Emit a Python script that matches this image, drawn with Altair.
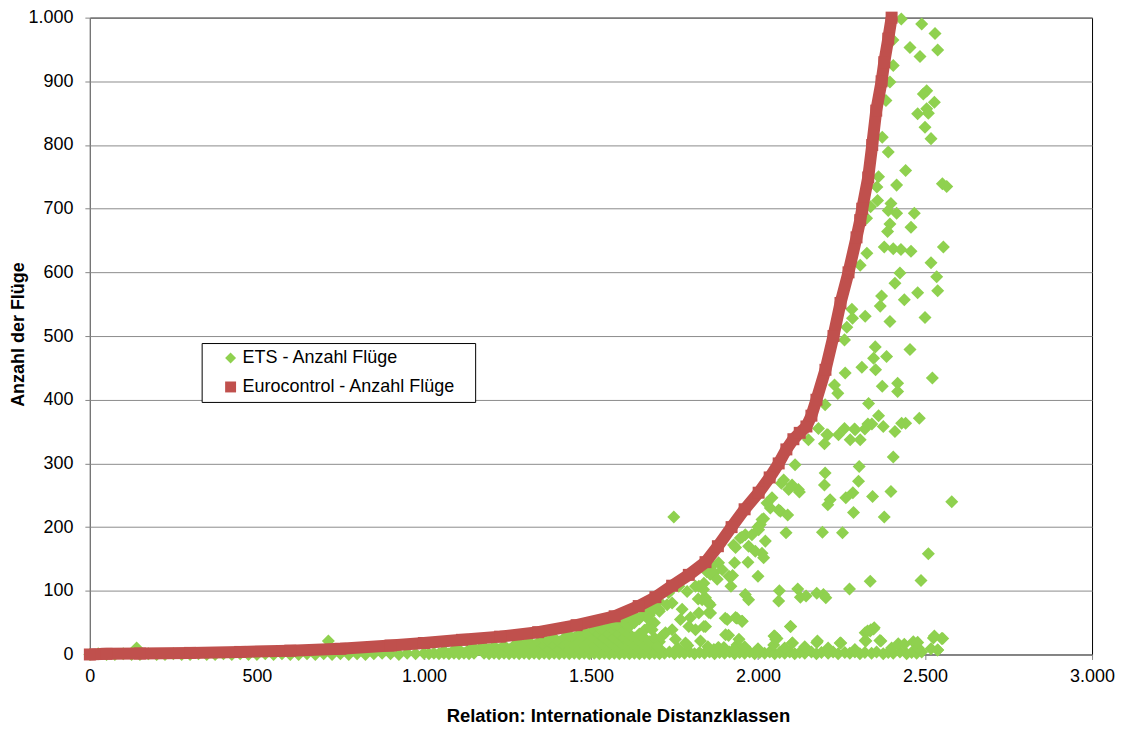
import altair as alt
import pandas as pd

SERIES = ["ETS - Anzahl Flüge", "Eurocontrol - Anzahl Flüge"]
X_TICKS = [0, 500, 1000, 1500, 2000, 2500, 3000]
Y_TICKS = [0, 100, 200, 300, 400, 500, 600, 700, 800, 900, 1000]

# Eurocontrol curve (read along the centre of the red band)
EURO_X = [0, 50, 150, 300, 450, 600, 750, 900, 1000,
          1114, 1228, 1342, 1457, 1571,
          1643, 1693, 1743, 1793, 1843,
          1880, 1921, 1960, 2002, 2035,
          2062, 2085, 2106, 2125, 2145,
          2160, 2175, 2202, 2226, 2247,
          2271, 2295, 2306, 2312, 2330,
          2342, 2354, 2370, 2378, 2390,
          2400]
EURO_Y = [0, 1, 1.5, 2.5, 4, 6, 9, 14, 18,
          23, 28, 35, 46, 60,
          76, 90, 108, 125, 145,
          170, 200, 228, 254, 278,
          300, 322, 338, 348, 358,
          375, 400, 447, 500, 552,
          600, 655, 682, 700, 749,
          800, 854, 900, 930, 967,
          1000]

# ETS: bottom strip under the red band
ETS_BASE_X = [0, 25, 50, 75, 100, 125, 150, 175, 200, 225,
              250, 275, 300, 325, 350, 375, 400, 425, 450, 475,
              500, 525, 550, 575, 600, 625, 650, 675, 700, 725,
              750, 775, 800, 825, 850, 875, 900, 925, 950, 975]
ETS_BASE_Y = [0, 1, 0, 0, 1, 0, 0, 1, 0, 0,
              1, 0, 0, 1, 0, 0, 1, 0, 1, 0,
              0, 1, 0, 1, 0, 0, 1, 0, 1, 0,
              1, 0, 1, 0, 1, 2, 1, 0, 2, 1]

# ETS: densely packed area below the red band
ETS_FILL_X = [1000,
              1015,
              1030,
              1045,
              1060, 1060,
              1075,
              1090, 1090,
              1105, 1105,
              1120,
              1135, 1135,
              1150, 1150,
              1165,
              1180, 1180,
              1195, 1195,
              1210, 1210,
              1225, 1225,
              1240, 1240,
              1255, 1255,
              1270, 1270,
              1285, 1285, 1285,
              1300, 1300,
              1315, 1315, 1315,
              1330, 1330,
              1345, 1345, 1345,
              1360, 1360, 1360,
              1375, 1375, 1375,
              1390, 1390, 1390,
              1405, 1405, 1405,
              1420, 1420, 1420,
              1435, 1435, 1435, 1435,
              1450, 1450, 1450,
              1465, 1465, 1465, 1465,
              1480, 1480, 1480, 1480,
              1495, 1495, 1495, 1495,
              1510, 1510, 1510, 1510,
              1525, 1525, 1525, 1525, 1525,
              1540, 1540, 1540, 1540,
              1555, 1555, 1555, 1555, 1555,
              1570, 1570, 1570, 1570, 1570,
              1585, 1585, 1585, 1585, 1585,
              1600, 1600, 1600, 1600, 1600,
              1615, 1615, 1615, 1615, 1615, 1615,
              1630, 1630, 1630, 1630, 1630,
              1645, 1645, 1645, 1645, 1645,
              1660, 1660, 1660, 1660, 1660, 1660,
              1675, 1675, 1675, 1675, 1675,
              1690, 1690, 1690, 1690, 1690,
              1705, 1705, 1705, 1705]
ETS_FILL_Y = [2,
              1,
              2,
              1,
              2, 6,
              1,
              2, 7,
              1, 8,
              2,
              1, 8,
              2, 10,
              8,
              2, 12,
              1, 8,
              2, 13,
              1, 8,
              2, 14,
              1, 8,
              2, 14,
              1, 8, 18,
              2, 14,
              1, 8, 20,
              2, 14,
              1, 8, 20,
              2, 14, 24,
              1, 8, 20,
              2, 14, 26,
              1, 8, 20,
              2, 14, 26,
              1, 8, 20, 30,
              2, 14, 26,
              1, 8, 20, 32,
              2, 14, 26, 36,
              1, 8, 20, 32,
              2, 14, 26, 38,
              1, 8, 20, 32, 42,
              2, 14, 26, 38,
              1, 8, 20, 32, 44,
              2, 14, 26, 38, 48,
              1, 8, 20, 32, 44,
              2, 14, 26, 38, 50,
              1, 8, 20, 32, 44, 56,
              2, 14, 26, 50, 62,
              1, 8, 20, 32, 56,
              2, 14, 26, 38, 62, 68,
              1, 8, 20, 44, 62,
              2, 14, 26, 50, 74,
              1, 8, 20, 68]

# ETS: bottom row on the right side
ETS_LOW_X = [1720, 1735, 1750, 1765, 1780, 1795, 1810, 1825, 1840, 1855,
             1870, 1885, 1900, 1915, 1930, 1945, 1960, 1975, 1990, 2005,
             2020, 2035, 2050, 2065, 2080, 2095, 2110, 2125, 2140, 2160,
             2175, 2190, 2210, 2225, 2240, 2260, 2275, 2290, 2305, 2320,
             2340, 2355, 2375, 2390, 2405, 2425, 2445, 2460, 2475, 2490,
             1700, 1760, 1790, 1850, 1880, 1960, 2000, 2080, 2140, 2210,
             2290, 2400]
ETS_LOW_Y = [2, 4, 1, 3, 2, 4, 1, 3, 2, 4,
             1, 3, 2, 4, 1, 3, 2, 4, 1, 3,
             2, 4, 1, 3, 2, 4, 1, 3, 2, 4,
             1, 3, 2, 4, 1, 3, 2, 4, 1, 3,
             2, 4, 1, 3, 2, 4, 1, 3, 2, 4,
             12, 10, 14, 12, 10, 12, 9, 10, 12, 10,
             8, 10]

# ETS: scattered points
ETS_SCAT_X = [2429, 2490, 2530, 2455, 2538, 2485, 2405, 2404, 2395, 2505,
              2495, 2528, 2505, 2510, 2478, 2500, 2518, 2390, 2372, 2383,
              2442, 2552, 2565, 2415, 2356, 2361, 2358, 2398, 2390, 2415,
              2468, 2337, 2325, 2395, 2458,
              2388, 2326, 2378, 2405, 2428, 2458, 2555, 2518, 2425, 2535,
              2410, 2306, 2538, 2478, 2370, 2438, 2366, 2281, 2321, 2283,
              2395, 2500, 2266, 2259, 2351, 2455, 2385, 2346, 2311, 2352,
              2261, 2522, 2418, 2372, 2418, 2239, 2229, 2201, 2331, 2361,
              2483, 2442, 2430, 2375, 2329, 2320, 2259, 2289, 2410, 2209,
              2241, 2181,
              2291, 2341, 2276, 2306, 2206, 2199, 2151, 2405, 2303, 2201,
              2301, 2199, 2398, 2284, 2343, 2263, 2580, 2216, 2209, 2286,
              2378, 2121, 2102, 2124, 2092, 2070, 2067, 2089, 2084, 2193,
              2253, 2012, 2007, 2000, 2022, 2012, 2017, 1972, 1992, 1970,
              1927, 1947, 1962, 1930, 1924, 2000, 1919, 2510, 2488, 2336,
              2274, 2119, 2064, 2062, 1962, 1972, 2127, 2144, 2176, 2196,
              2203, 1862, 1843, 1833, 1857, 1853, 1843, 1902, 1937, 1952,
              1912, 2097, 2050, 2057, 2321, 2336, 2346, 2365, 2321, 2525,
              2550, 2465, 2420, 2246, 2176, 2103, 2047, 1937, 1882, 2480,
              2538, 2111, 2077, 2042, 2062, 2037, 2027, 2017, 2002, 1982,
              1952, 1933, 1882, 1862, 1857, 1847, 1823, 1837,
              1748, 1821, 1853, 1858, 1823, 1798, 1773, 1768, 1743, 1728,
              1703, 1688, 1673, 1683, 1713, 1723, 1743, 1793, 1838, 1813,
              1828, 1783, 1753, 1908, 1903, 1933, 1953, 1943, 1898, 1928,
              1868, 2098, 2048, 2053, 2103, 2178, 2248, 2328, 2338, 2348,
              2323, 2368, 2438, 2478, 2528, 2553, 2518, 2538, 1868, 1893,
              1878, 1913, 1813, 1838, 1788, 1763, 1733, 1703, 1663, 140,
              714]
ETS_SCAT_Y = [998, 990, 975, 953, 949, 939, 925, 965, 899, 885,
              880, 867, 857, 850, 849, 828, 810, 789, 812, 870,
              760, 739, 735, 737, 734, 750, 713, 708, 697, 693,
              693, 703, 685, 676, 671,
              664, 630, 640, 637, 636, 633, 640, 615, 599, 593,
              583, 611, 571, 568, 563, 557, 547, 542, 531, 528,
              523, 529, 514, 494, 483, 479, 468, 465, 451, 447,
              442, 434, 426, 421, 413, 410, 423, 392, 394, 375,
              371, 363, 363, 358, 362, 354, 355, 354, 350, 345,
              345, 355,
              353, 362, 337, 337, 345, 331, 337, 310, 295, 285,
              272, 266, 256, 254, 248, 246, 240, 243, 235, 223,
              216, 259, 266, 255, 259, 269, 225, 219, 191, 192,
              191, 212, 204, 200, 178, 159, 152, 170, 162, 145,
              172, 183, 188, 144, 124, 123, 107, 158, 116, 115,
              103, 103, 100, 84, 94, 86, 90, 92, 96, 94,
              89, 132, 89, 86, 78, 66, 44, 57, 57, 52,
              30, 44, 29, 25, 34, 37, 40, 22, 22, 26,
              25, 20, 17, 18, 19, 18, 15, 15, 11, 10,
              7, 298, 274, 246, 227, 230, 238, 213, 196, 188,
              184, 168, 144, 139, 126, 130, 107, 102,
              216, 87, 81, 65, 65, 58, 71, 55, 81, 78,
              71, 71, 55, 39, 29, 34, 39, 44, 44, 39,
              21, 18, 24, 55, 31, 58, 52, 24, 11, 8,
              8, 44, 29, 24, 18, 21, 18, 37, 39, 42,
              21, 21, 16, 19, 29, 25, 9, 7, 128, 133,
              118, 123, 107, 112, 99, 107, 97, 84, 76, 10,
              21]

GREEN = "#8FD14F"
RED = "#C0504D"
FONT = "Liberation Sans"

ets = pd.concat([
    pd.DataFrame({"x": ETS_BASE_X, "y": ETS_BASE_Y}),
    pd.DataFrame({"x": ETS_FILL_X, "y": ETS_FILL_Y}),
    pd.DataFrame({"x": ETS_LOW_X, "y": ETS_LOW_Y}),
    pd.DataFrame({"x": ETS_SCAT_X, "y": ETS_SCAT_Y}),
], ignore_index=True)
ets["s"] = SERIES[0]

euro = pd.DataFrame({"x": EURO_X, "y": EURO_Y})
euro["s"] = SERIES[1]

label_expr = "replace(format(datum.value, ','), ',', '.')"

x_enc = alt.X(
    "x:Q",
    scale=alt.Scale(domain=[0, 3000], nice=False, zero=False),
    axis=alt.Axis(
        values=X_TICKS, labelExpr=label_expr, grid=False,
        title="Relation: Internationale Distanzklassen",
        labelFlush=False, labelOverlap=False,
        labelFont=FONT, labelFontSize=18, labelColor="black", labelPadding=8,
        tickSize=5, tickColor="#868686", domainColor="#868686",
        titleFont=FONT, titleFontSize=18.5, titleFontWeight="bold", titleColor="black",
        titleX=529, titleY=67, titleAlign="center", titleBaseline="alphabetic",
    ),
)
y_enc = alt.Y(
    "y:Q",
    scale=alt.Scale(domain=[0, 1000], nice=False),
    axis=alt.Axis(
        values=Y_TICKS, labelExpr=label_expr, grid=True,
        gridColor="#8C8C8C", gridWidth=1,
        title="Anzahl der Flüge",
        labelFlush=False, labelOverlap=False,
        labelFont=FONT, labelFontSize=18, labelColor="black", labelPadding=12,
        tickSize=5, tickColor="#868686", domainColor="#868686",
        titleFont=FONT, titleFontSize=18, titleFontWeight="bold", titleColor="black",
        titleX=-66, titleY=317, titleAngle=270, titleAlign="center",
        titleBaseline="alphabetic",
    ),
)

legend = alt.Legend(
    title=None, orient="none", legendX=112, legendY=326,
    labelFont=FONT, labelFontSize=18, labelColor="black", labelLimit=400,
    labelExpr="datum.label + '\u2800'",
    symbolSize=120, symbolStrokeWidth=0, symbolOffset=14, labelOffset=3,
    padding=6, rowPadding=11,
    strokeColor="black", fillColor="white",
)

color_enc = alt.Color("s:N", scale=alt.Scale(domain=SERIES, range=[GREEN, RED]), legend=legend)
shape_enc = alt.Shape("s:N", scale=alt.Scale(domain=SERIES, range=["diamond", "square"]), legend=legend)

ets_layer = alt.Chart(ets).mark_point(filled=True, size=170, opacity=1, strokeWidth=0).encode(
    x=x_enc, y=y_enc, color=color_enc, shape=shape_enc
)
euro_line = alt.Chart(euro).mark_line(color=RED, strokeWidth=12, strokeJoin="round").encode(
    x="x:Q", y="y:Q", order="x:Q"
)
euro_pts = alt.Chart(euro).mark_point(filled=True, size=144, opacity=1, strokeWidth=0).encode(
    x="x:Q", y="y:Q", color=color_enc, shape=shape_enc
)

chart = alt.layer(ets_layer, euro_line, euro_pts).properties(
    width=1004, height=638,
    autosize=alt.AutoSizeParams(type="none"),
    padding={"left": 82, "top": 9, "right": 23, "bottom": 70},
    background="white",
).configure_view(stroke="black", strokeWidth=1)

chart.save("out.html", embed_options={"renderer": "svg", "actions": False})
